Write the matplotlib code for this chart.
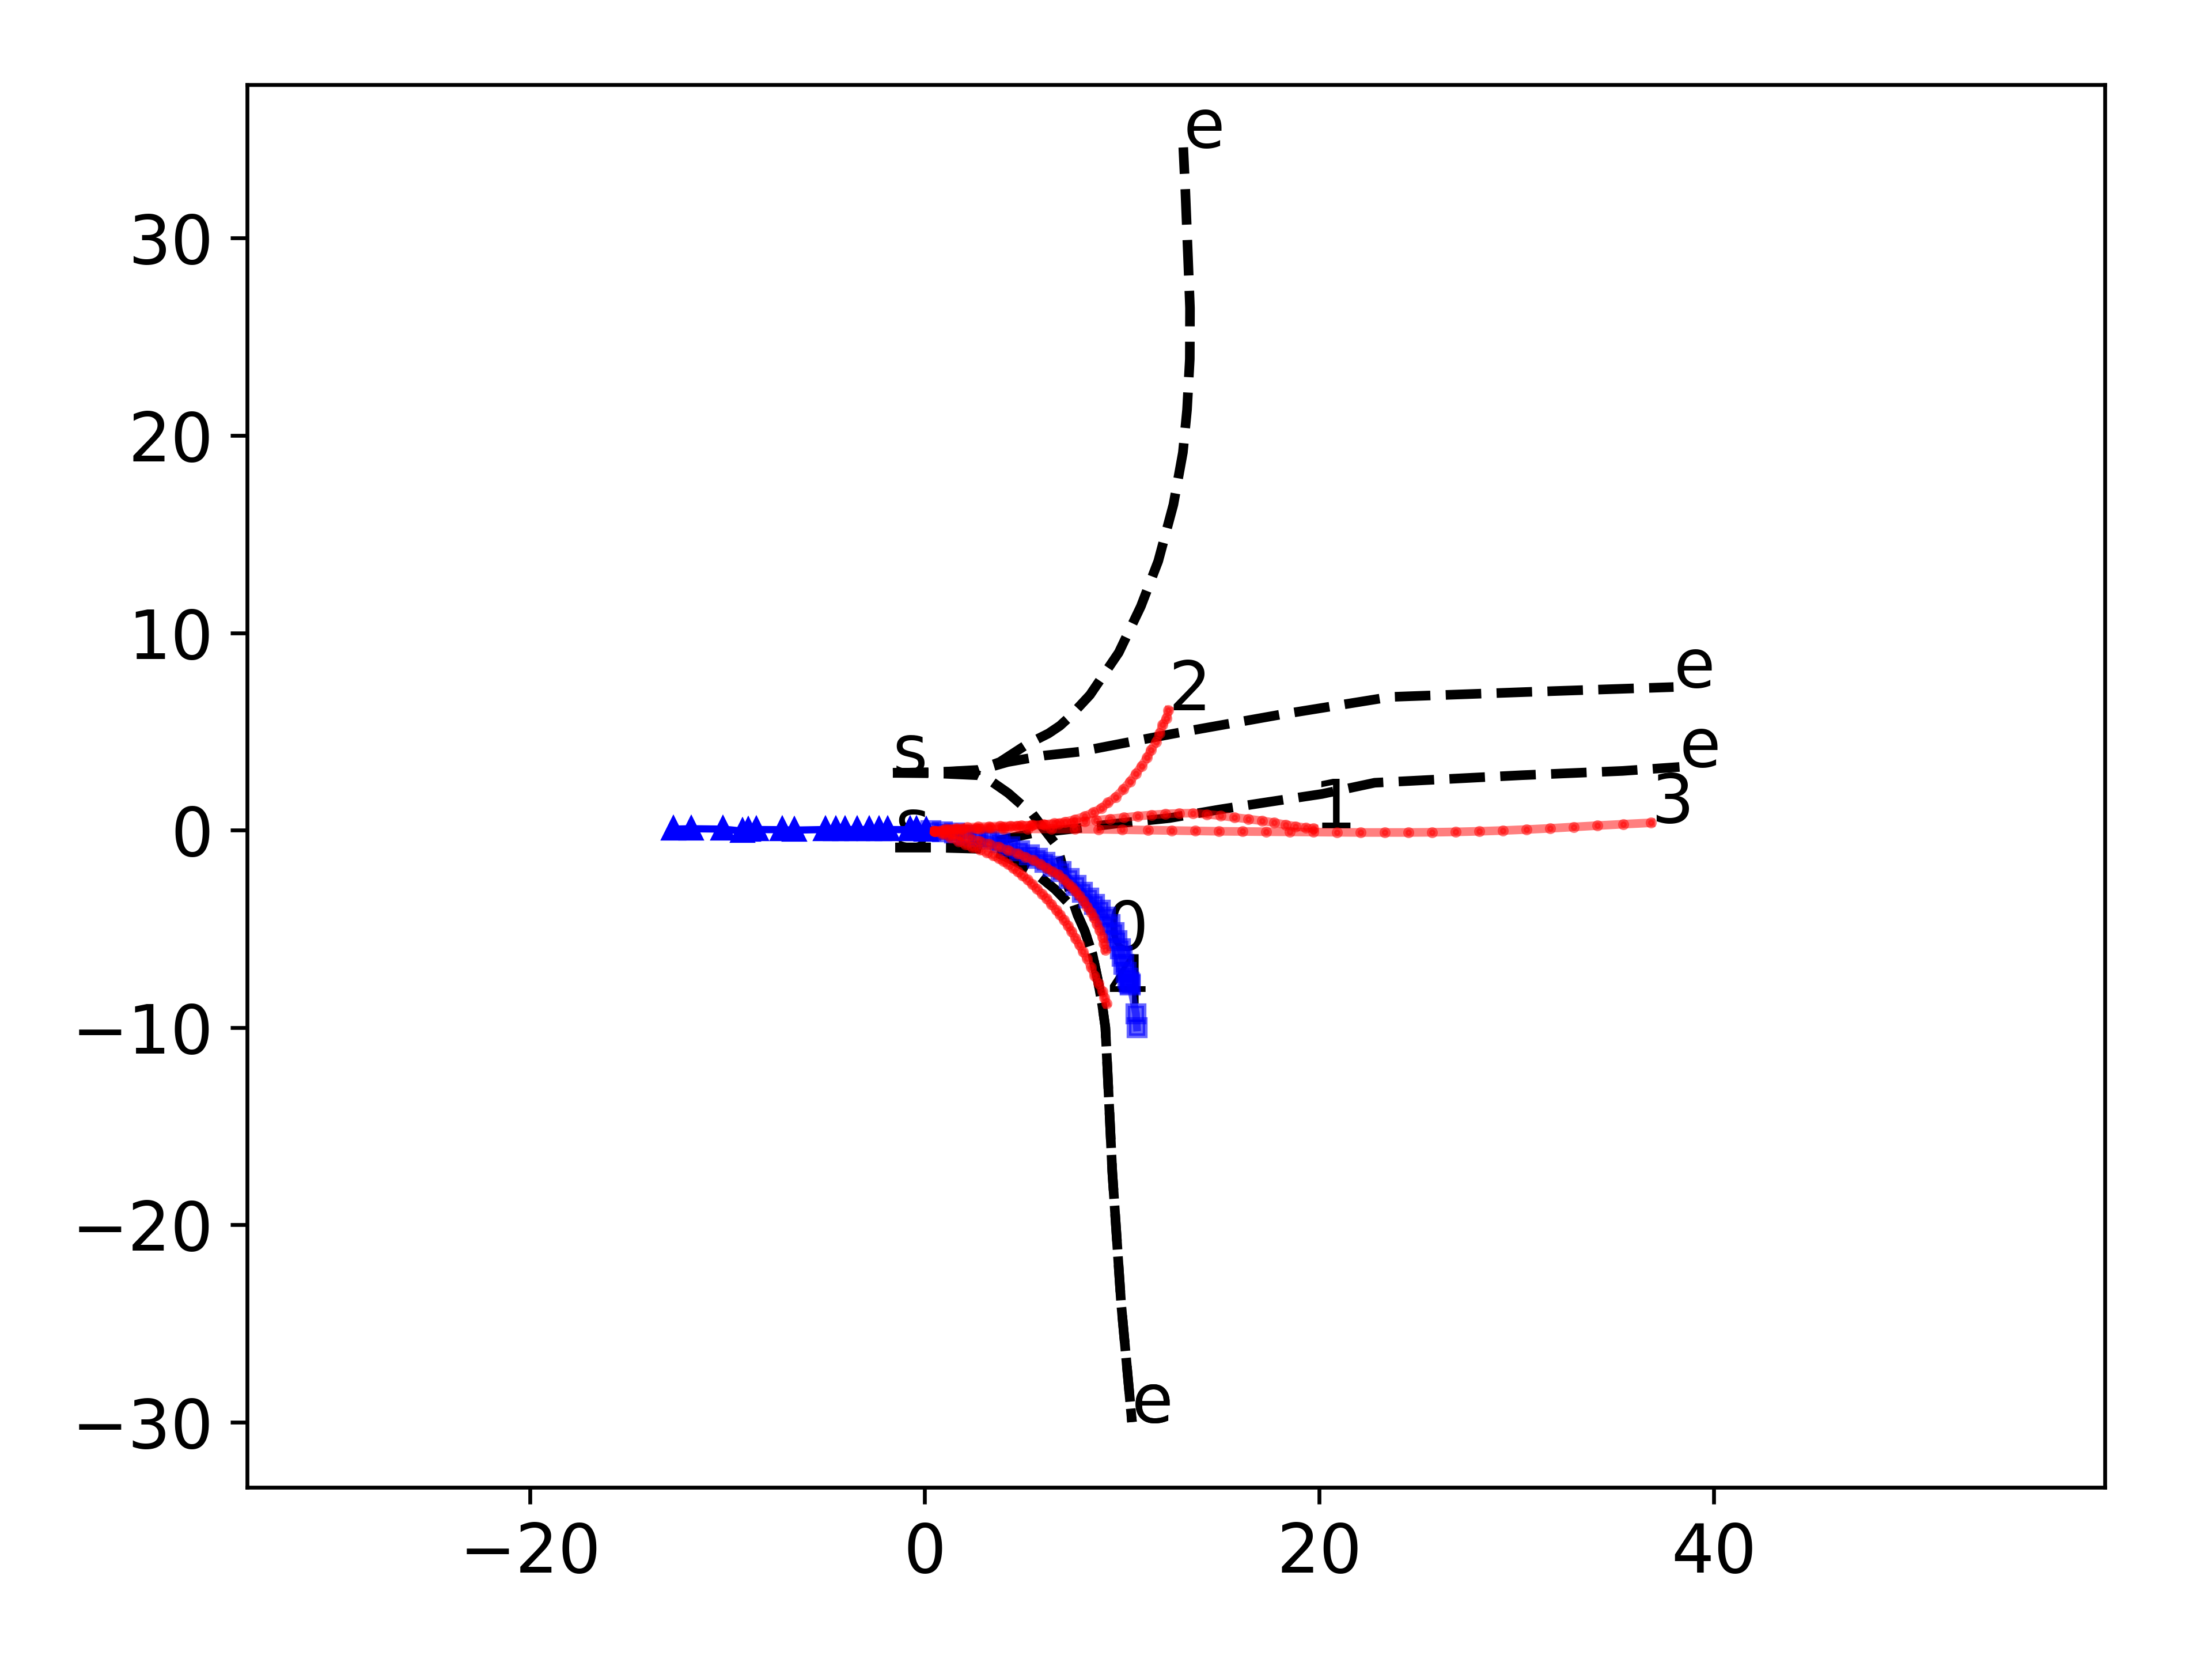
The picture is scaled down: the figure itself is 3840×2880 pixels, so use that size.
import matplotlib
matplotlib.use("Agg")
import matplotlib.pyplot as plt

# ---------------- lanes (black dashed) ----------------
lane_a_x = [-1.62, 0.5, 2.7, 3.8, 5.2, 6.27, 6.85, 7.3, 8.37, 9.83, 10.95, 11.83, 12.6, 13.08, 13.29, 13.43, 13.44, 13.34, 13.2, 13.1]
lane_a_y = [2.9, 2.93, 3.05, 3.45, 4.36, 4.9, 5.29, 5.7, 6.85, 9.0, 11.34, 13.63, 16.5, 19.14, 21.3, 23.87, 26.46, 29.03, 32.5, 34.6]

lane_b_x = [-1.62, 0.5, 2.7, 4.2, 6.07, 7.82, 10.35, 12.88, 18.0, 23.6, 30.5, 37.95]
lane_b_y = [2.9, 2.93, 3.02, 3.45, 3.78, 3.97, 4.46, 4.94, 5.85, 6.75, 7.0, 7.25]

lane_c_x = [-1.62, 0.5, 2.7, 3.4, 4.22, 5.0, 5.39, 6.0, 6.66, 6.86, 7.1, 7.45, 7.72, 8.1, 8.5, 8.75, 8.99, 9.15, 9.25, 9.5, 9.95, 10.5]
lane_c_y = [2.9, 2.88, 2.78, 2.45, 1.88, 1.2, 0.91, 0.1, -0.75, -1.38, -2.3, -3.45, -4.25, -5.1, -6.3, -7.5, -8.85, -10.0, -12.0, -17.3, -24.0, -30.0]

lane_d_x = [-1.5, 0.4, 2.3, 3.64, 5.39, 8.0, 9.6, 12.4, 14.97, 17.32, 20.12, 22.8, 24.93, 30.2, 35.37, 38.25]
lane_d_y = [-0.88, -0.88, -0.85, -0.55, -0.17, 0.12, 0.32, 0.61, 1.05, 1.41, 1.83, 2.4, 2.51, 2.78, 3.0, 3.2]

lane_e_x = [-1.5, 0.4, 2.86, 3.64, 4.5, 5.39, 5.88, 6.6, 7.25, 7.72, 8.1, 8.5, 8.75, 8.99, 9.15, 9.25, 9.5, 9.95, 10.5]
lane_e_y = [-0.88, -0.88, -0.95, -1.14, -1.55, -2.02, -2.41, -3.0, -3.67, -4.25, -5.1, -6.3, -7.5, -8.85, -10.0, -12.0, -17.3, -24.0, -30.0]

# ---------------- agent history (blue triangles) ----------------
hist_x = [-12.73, -11.84, -10.22, -9.24, -8.95, -8.55, -7.23, -6.60, -5.04, -4.52, -4.03, -3.44, -2.83, -2.33, -1.89, -0.75, -0.42, 0.08]
hist_y = [0.05, 0.07, 0.05, -0.05, 0.0, 0.03, 0.02, 0.0, 0.03, 0.02, 0.03, 0.03, 0.03, 0.03, 0.03, 0.02, 0.02, 0.0]

# ---------------- ground-truth future (blue squares) ----------------
fut_x = [0.3, 0.9, 1.5, 2.1, 2.7, 3.25, 3.8, 4.3, 4.8, 5.3, 5.7, 6.1, 6.5, 6.9, 7.3, 7.65, 8.0, 8.3, 8.6, 8.9,
         9.15, 9.4, 9.6, 9.75, 9.9, 10.0, 10.1, 10.2, 10.3, 10.35, 10.4, 10.42, 10.7, 10.75]
fut_y = [-0.02, -0.08, -0.15, -0.25, -0.36, -0.48, -0.65, -0.85, -1.05, -1.25, -1.42, -1.62, -1.85, -2.1, -2.45, -2.8, -3.15, -3.45, -3.75, -4.05,
         -4.4, -4.8, -5.2, -5.6, -6.0, -6.4, -6.8, -7.2, -7.5, -7.7, -7.8, -7.85, -9.3, -10.0]

# ---------------- predictions (red) ----------------
pred0_x = [0.5, 0.95, 1.4, 1.85, 2.3, 2.76, 3.25, 3.74, 4.22, 4.71, 5.1, 5.49, 5.85, 6.18, 6.48, 6.76, 7.02, 7.25, 7.46, 7.64,
           7.84, 8.03, 8.23, 8.42, 8.57, 8.71, 8.86, 9.0, 9.08, 9.15]
pred0_y = [-0.05, -0.12, -0.2, -0.3, -0.42, -0.55, -0.7, -0.85, -1.02, -1.2, -1.36, -1.52, -1.72, -1.92, -2.1, -2.25, -2.48, -2.7, -2.9, -3.1,
           -3.34, -3.58, -3.87, -4.16, -4.45, -4.75, -5.09, -5.43, -5.75, -6.06]

pred1_x = [0.5, 1.2, 1.9, 2.6, 3.3, 4.0, 4.7, 5.4, 6.1, 6.8, 7.5, 8.1, 8.7, 9.4, 10.1, 10.8, 11.5, 12.2, 12.9, 13.6,
           14.3, 15.0, 15.7, 16.4, 17.1, 17.7, 18.3, 18.8, 19.3, 19.7]
pred1_y = [-0.05, 0.03, 0.06, 0.1, 0.13, 0.16, 0.2, 0.23, 0.27, 0.32, 0.38, 0.44, 0.5, 0.57, 0.64, 0.71, 0.77, 0.82, 0.85, 0.86,
           0.8, 0.73, 0.64, 0.56, 0.47, 0.38, 0.27, 0.19, 0.12, 0.08]

pred2_x = [0.5, 1.05, 1.6, 2.15, 2.7, 3.25, 3.8, 4.35, 4.9, 5.45, 6.0, 6.55, 7.1, 7.6, 8.1, 8.55, 8.95, 9.28, 9.67, 10.06,
           10.4, 10.69, 10.98, 11.27, 11.47, 11.71, 11.9, 12.05, 12.25, 12.35]
pred2_y = [-0.05, 0.05, 0.1, 0.14, 0.17, 0.19, 0.21, 0.22, 0.24, 0.26, 0.29, 0.34, 0.42, 0.54, 0.7, 0.9, 1.12, 1.39, 1.68, 2.07,
           2.46, 2.85, 3.24, 3.68, 4.07, 4.46, 4.9, 5.33, 5.67, 6.06]

pred3_x = [0.5, 1.6, 2.8, 4.0, 5.2, 6.4, 7.6, 8.8, 10.0, 11.3, 12.5, 13.7, 14.9, 16.1, 17.3, 18.5, 19.7, 20.9, 22.1, 23.3,
           24.5, 25.7, 26.9, 28.1, 29.3, 30.5, 31.7, 32.9, 34.1, 35.4, 36.8]
pred3_y = [-0.05, 0.03, 0.05, 0.06, 0.06, 0.06, 0.05, 0.04, 0.02, 0.0, -0.02, -0.04, -0.06, -0.07, -0.08, -0.09, -0.1, -0.11, -0.12, -0.12,
           -0.12, -0.11, -0.09, -0.06, -0.02, 0.03, 0.09, 0.16, 0.23, 0.3, 0.37]

pred4_x = [0.5, 0.9, 1.3, 1.7, 2.05, 2.4, 2.78, 3.15, 3.45, 3.74, 4.0, 4.23, 4.47, 4.71, 4.95, 5.2, 5.45, 5.69, 5.94, 6.18,
           6.42, 6.66, 6.86, 7.05, 7.25, 7.44, 7.63, 7.83, 8.02, 8.22, 8.42, 8.61, 8.8, 9.0, 9.1, 9.2]
pred4_y = [-0.05, -0.2, -0.38, -0.57, -0.73, -0.87, -1.0, -1.14, -1.28, -1.43, -1.58, -1.73, -1.92, -2.11, -2.3, -2.51, -2.75, -2.99, -3.23, -3.48,
           -3.77, -4.06, -4.3, -4.55, -4.84, -5.14, -5.48, -5.82, -6.16, -6.5, -6.94, -7.38, -7.77, -8.16, -8.48, -8.79]

lanes = [(lane_a_x, lane_a_y), (lane_b_x, lane_b_y), (lane_c_x, lane_c_y), (lane_d_x, lane_d_y), (lane_e_x, lane_e_y)]
preds = [(pred0_x, pred0_y), (pred1_x, pred1_y), (pred2_x, pred2_y), (pred3_x, pred3_y), (pred4_x, pred4_y)]
pred_labels = ["0", "1", "2", "3", "4"]

fig = plt.figure(figsize=(6.4, 4.8), dpi=600)
ax = fig.add_axes([0.11172, 0.10347, 0.83984, 0.84549])

FS = 14
start_done = set()
for lx, ly in lanes:
    ax.plot(lx, ly, color="black", linestyle="--", linewidth=2, zorder=2)
    key = (lx[0], ly[0])
    if key not in start_done:
        ax.text(lx[0], ly[0], "s", fontsize=FS, zorder=2.5)
        start_done.add(key)
    ax.text(lx[-1], ly[-1], "e", fontsize=FS, zorder=2.5)

ax.plot(hist_x, hist_y, color="blue", marker="^", markersize=3.8, linewidth=1.5, zorder=3)
ax.plot(fut_x, fut_y, color="blue", marker="s", markersize=3.4, markeredgewidth=1.0,
        linewidth=1.6, alpha=0.6, zorder=3)

for (px, py), lab in zip(preds, pred_labels):
    ax.plot(px, py, color="red", marker="o", markersize=1.3, markeredgewidth=1.0,
            linewidth=1.8, alpha=0.5, zorder=3.5)
    ax.text(px[-1], py[-1], lab, fontsize=FS, zorder=2.5)

ax.set_xlim(-34.35, 59.81)
ax.set_ylim(-33.31, 37.78)
ax.tick_params(labelsize=FS)

fig.savefig("out.png", dpi=600)
